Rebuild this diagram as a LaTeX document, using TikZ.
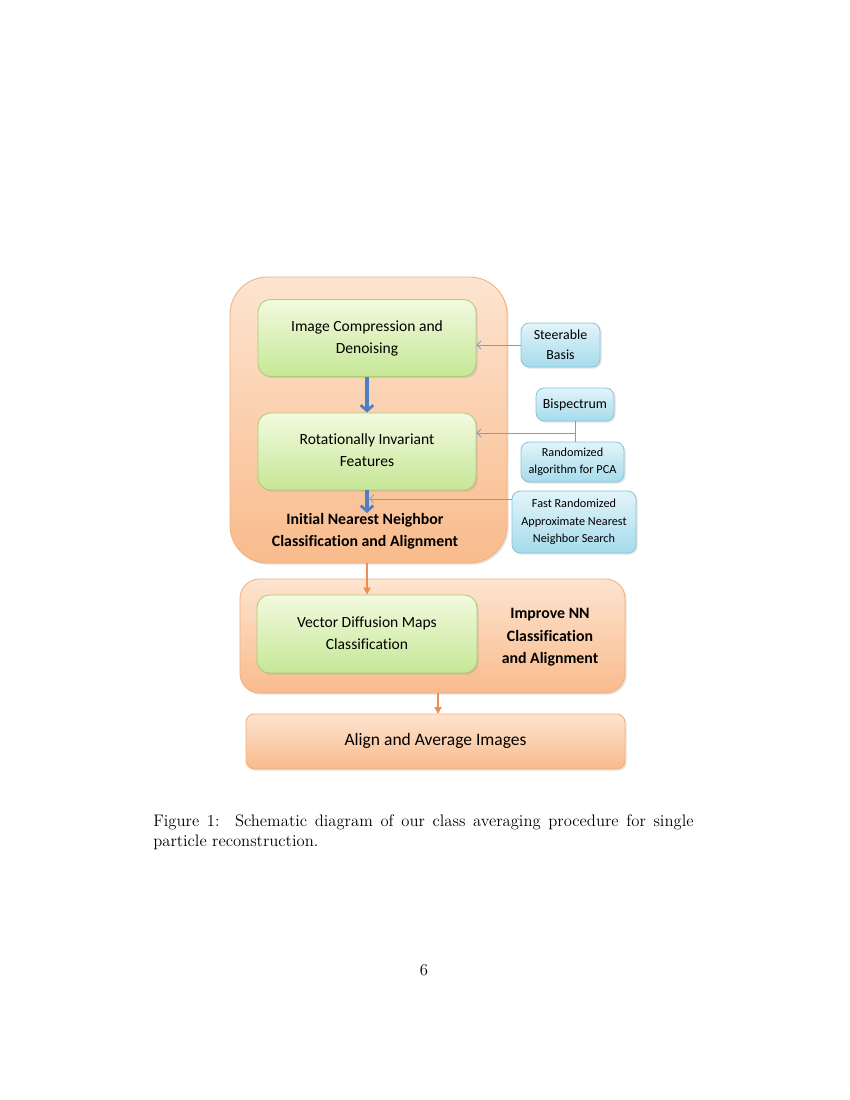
\documentclass[tikz,border=0pt]{standalone}
\usepackage{fontspec}
\newfontfamily\carlitofont[Ligatures={NoCommon}]{Carlito}
\usetikzlibrary{arrows.meta,shadows}
\definecolor{orbord}{HTML}{F2B07E}
\definecolor{ortop}{HTML}{FDE4D0}
\definecolor{orbot}{HTML}{F9BB8C}
\definecolor{grbord}{HTML}{A9CF7A}
\definecolor{grtop}{HTML}{F2FADF}
\definecolor{grbot}{HTML}{C6E796}
\definecolor{blbord}{HTML}{86C6DA}
\definecolor{bltop}{HTML}{E2F4FA}
\definecolor{blbot}{HTML}{A6DBEB}
\definecolor{bluearrow}{HTML}{4F7FBE}
\definecolor{thinline}{HTML}{7F9EC4}
\definecolor{orarrow}{HTML}{EE8E4E}
\tikzset{
  x=0.72pt, y=-0.72pt,
  shd/.style={drop shadow={opacity=0.22,shadow xshift=1.2pt,shadow yshift=-1.2pt}},
  outerbox/.style={shd,draw=orbord,line width=0.6pt,top color=ortop,bottom color=orbot,inner sep=0pt},
  greenbox/.style={shd,draw=grbord,line width=0.6pt,top color=grtop,bottom color=grbot,rounded corners=9pt,
     minimum width=218*0.72pt,minimum height=77*0.72pt,align=center,font=\carlitofont\fontsize{11.2}{15.8}\selectfont,inner sep=0pt},
  bluebox/.style={shd,draw=blbord,line width=0.6pt,top color=bltop,bottom color=blbot,rounded corners=6pt,
     align=center,inner sep=0pt},
  lbl/.style={align=center,font=\carlitofont\bfseries\fontsize{11.4}{15.8}\selectfont},
  thinarrow/.style={draw=thinline,line width=0.55pt,-{Straight Barb[length=3pt,width=6pt]}},
  thinseg/.style={draw=thinline,line width=0.55pt},
  bigarrow/.style={draw=bluearrow,line width=2.2pt,-{Straight Barb[length=4pt,width=9pt,line width=2pt]}},
  orarr/.style={draw=orarrow,line width=1.5pt,-{Triangle[length=5pt,width=5pt]}}
}
\begin{document}
\begin{tikzpicture}
\useasboundingbox[fill=white] (0,0) rectangle (850,1100);
% outer boxes
\node[outerbox,rounded corners=27pt,minimum width=277*0.72pt,minimum height=286*0.72pt] (outerA) at (368.5,420) {};
\node[outerbox,rounded corners=14pt,minimum width=385*0.72pt,minimum height=114*0.72pt] (outerB) at (432.5,636) {};
\node[outerbox,rounded corners=6pt,minimum width=379*0.72pt,minimum height=55*0.72pt,
      font=\carlitofont\fontsize{12.6}{15}\selectfont] (align) at (435.5,741.5) {\raisebox{3.5pt}{Align and Average Images}};
% green boxes
\node[greenbox] (compress) at (367,338) {Image Compression and\\Denoising};
\node[greenbox] (rotinv) at (367,451.5) {\raisebox{2.5pt}{\begin{tabular}{@{}c@{}}Rotationally Invariant\\Features\end{tabular}}};
\node[greenbox,minimum width=220*0.72pt,minimum height=78*0.72pt] (vdm) at (367,634) {\raisebox{0.8pt}{\begin{tabular}{@{}c@{}}Vector Diffusion Maps\\Classification\end{tabular}}};
% labels
\node[lbl] (initlbl) at (365,531) {Initial Nearest Neighbor\\Classification and Alignment};
\node[lbl,font=\carlitofont\bfseries\fontsize{11.4}{16.2}\selectfont] (improvelbl) at (550,637.5) {Improve NN\\Classification\\and Alignment};
% blue boxes
\node[bluebox,minimum width=79*0.72pt,minimum height=44*0.72pt,font=\carlitofont\fontsize{10}{14.4}\selectfont] (steer) at (560.5,345) {Steerable\\Basis};
\node[bluebox,minimum width=78*0.72pt,minimum height=33*0.72pt,font=\carlitofont\fontsize{10}{12}\selectfont] (bisp) at (575,404.5) {Bispectrum};
\node[bluebox,minimum width=103*0.72pt,minimum height=40*0.72pt,font=\carlitofont\fontsize{8.8}{12.5}\selectfont] (rpca) at (572.5,462) {Randomized\\algorithm for PCA};
\node[bluebox,minimum width=124*0.72pt,minimum height=62*0.72pt,font=\carlitofont\fontsize{8.8}{12.5}\selectfont] (fast) at (574,522) {Fast Randomized\\Approximate Nearest\\Neighbor Search};
% connectors
\draw[bigarrow] (compress.south) -- (rotinv.north);
\coordinate (nnend) at (367,513);
\draw[bigarrow] (rotinv.south) -- (nnend);
\draw[thinarrow] (steer.west) -- (compress.east |- steer.west);
\coordinate (junc) at (575,433);
\draw[thinseg] (bisp.south) -- (rpca.north -| bisp.south);
\draw[thinarrow] (junc) -- (rotinv.east |- junc);
\coordinate (fastout) at (512,499);
\coordinate (fastin) at (369,499);
\draw[thinarrow] (fastout) -- (fastin);
\draw[orarr] (outerA.south -| vdm.north) -- (vdm.north);
\coordinate (alignin) at (438,714);
\draw[orarr] (outerB.south -| alignin) -- (alignin);
% caption
\node[anchor=north west,inner sep=0pt,text width=389pt,align=justify,font=\fontsize{12}{14.5}\selectfont] (caption) at (153,814)
 {Figure 1:\ \ Schematic diagram of our class averaging procedure for single particle reconstruction.};
\node[font=\fontsize{12}{14.5}\selectfont] (pagenum) at (424,970) {6};
\end{tikzpicture}
\end{document}
